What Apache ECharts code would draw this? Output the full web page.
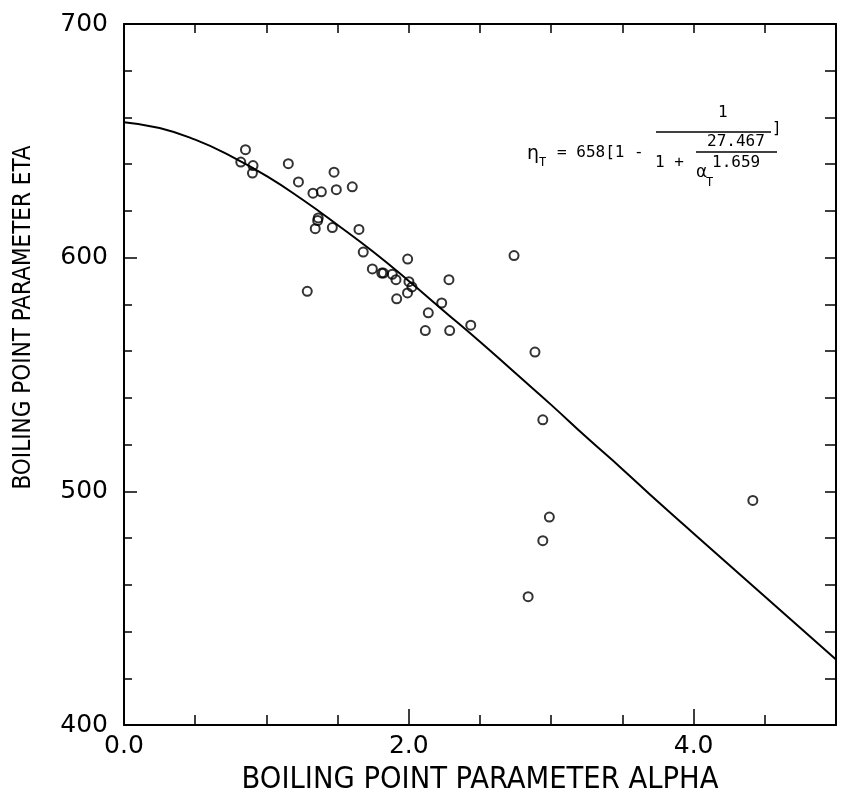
<!DOCTYPE html>
<html>
<head>
<meta charset="utf-8">
<script src="https://cdn.jsdelivr.net/npm/echarts@6/dist/echarts.min.js"></script>
<style>
html,body{margin:0;padding:0;background:#fff;}
#chart{width:842px;height:803px;}
</style>
</head>
<body>
<div id="chart"></div>
<script>
// Observed points (alpha, eta)
const alphaObs = [0.820,0.853,0.906,0.902,1.154,1.225,1.327,1.386,1.475,1.491,1.603,1.364,1.360,1.343,1.463,1.650,1.680,1.287,1.992,1.744,1.810,1.822,1.884,1.910,2.001,2.022,1.991,1.915,2.282,2.231,2.137,2.116,2.287,2.435,2.739,2.886,2.941,2.987,2.941,2.838,4.416];
const etaObs   = [640.9,646.2,639.4,636.2,640.2,632.4,627.6,628.2,636.6,629.1,630.3,617.0,615.9,612.4,612.9,612.1,602.4,585.6,599.4,595.2,593.4,593.4,592.9,590.6,589.7,587.5,584.9,582.4,590.6,580.6,576.4,568.8,568.8,571.1,600.9,559.6,530.6,489.0,478.9,454.9,496.1];
// Fitted curve
const curveAlpha = [0,0.25,0.5,0.75,1,1.25,1.5,1.75,2,2.25,2.5,2.75,3,3.25,3.5,3.75,4,4.25,4.5,4.75,5];
const curveEta   = [658,655.5,650.5,643.5,635,625,614,602.5,590,577,564,550.5,537,523,509.5,495.5,482,468.5,455,441.5,428];
// Axis labels
const xTickLabels = ['0.0','2.0','4.0'];
const yTickLabels = ['400','500','600','700'];
const xTitle = 'BOILING POINT PARAMETER ALPHA';
const yTitle = 'BOILING POINT PARAMETER ETA';

const chart = echarts.init(document.getElementById('chart'));
const black = '#000';
const tickFont = 'DejaVu Sans';
const titleFont = 'DejaVu Sans Condensed';
const mono = '16px "DejaVu Sans Mono"';
const monoSmall = '12px "DejaVu Sans Mono"';

function hiddenLabels(){ return {show:false}; }

const option = {
  animation:false,
  backgroundColor:'#fff',
  grid:{left:124,right:6,top:24,bottom:78,containLabel:false},
  xAxis:[
    {type:'value',min:0,max:5,interval:2,position:'bottom',
     axisLine:{show:true,onZero:false,lineStyle:{color:black,width:2}},
     axisTick:{show:true,inside:true,length:16,lineStyle:{color:black,width:1.5}},
     axisLabel:{show:true,color:black,fontFamily:tickFont,fontSize:25,margin:9,showMaxLabel:false,
       formatter:function(v){const i=Math.round(v/2);return (Math.abs(v-i*2)<1e-9 && i<xTickLabels.length)?xTickLabels[i]:'';}},
     splitLine:{show:false},
     name:xTitle,nameLocation:'middle',nameGap:40,
     nameTextStyle:{color:black,fontFamily:titleFont,fontSize:30.5}},
    {type:'value',min:0,max:5,interval:0.5,position:'bottom',
     axisLine:{show:false,onZero:false},
     axisTick:{show:true,inside:true,length:10,lineStyle:{color:black,width:1.5}},
     axisLabel:hiddenLabels(),splitLine:{show:false}},
    {type:'value',min:0,max:5,interval:0.5,position:'top',
     axisLine:{show:true,onZero:false,lineStyle:{color:black,width:2}},
     axisTick:{show:true,inside:true,length:9,lineStyle:{color:black,width:1.5}},
     axisLabel:hiddenLabels(),splitLine:{show:false}}
  ],
  yAxis:[
    {type:'value',min:400,max:700,interval:100,position:'left',
     axisLine:{show:true,onZero:false,lineStyle:{color:black,width:2}},
     axisTick:{show:true,inside:true,length:13,lineStyle:{color:black,width:1.5}},
     minorTick:{show:true,splitNumber:5,length:8,lineStyle:{color:black,width:1.5}},
     axisLabel:{show:true,color:black,fontFamily:tickFont,fontSize:25,margin:16,
       formatter:function(v){const i=Math.round((v-400)/100);return yTickLabels[i]||'';}},
     splitLine:{show:false},
     name:yTitle,nameLocation:'middle',nameRotate:90,nameGap:88,
     nameTextStyle:{color:black,fontFamily:titleFont,fontSize:24,padding:[0,0,0,114]}},
    {type:'value',min:400,max:700,interval:20,position:'right',
     axisLine:{show:true,onZero:false,lineStyle:{color:black,width:2}},
     axisTick:{show:true,inside:true,length:11,lineStyle:{color:black,width:1.5}},
     axisLabel:hiddenLabels(),splitLine:{show:false}}
  ],
  series:[
    {type:'line',xAxisIndex:0,yAxisIndex:0,showSymbol:false,symbol:'none',smooth:true,
     lineStyle:{color:black,width:2},
     data:curveAlpha.map((a,i)=>[a,curveEta[i]]),z:2},
    {type:'scatter',xAxisIndex:0,yAxisIndex:0,symbol:'circle',symbolSize:9,
     itemStyle:{color:'rgba(0,0,0,0)',borderColor:black,borderWidth:2},
     data:alphaObs.map((a,i)=>[a,etaObs[i]]),z:3}
  ],
  graphic:[
    {type:'text',left:527,top:145,style:{text:'η',font:'19px "DejaVu Sans"',fill:black}},
    {type:'text',left:539,top:157,style:{text:'T',font:monoSmall,fill:black}},
    {type:'text',left:557,top:145,style:{text:'= 658[1 -',font:mono,fill:black}},
    {type:'text',left:718,top:105,style:{text:'1',font:mono,fill:black}},
    {type:'line',shape:{x1:656,y1:132,x2:771,y2:132},style:{stroke:black,lineWidth:1.5}},
    {type:'text',left:772,top:121,style:{text:']',font:mono,fill:black}},
    {type:'text',left:655,top:155,style:{text:'1 +',font:mono,fill:black}},
    {type:'text',left:707,top:134,style:{text:'27.467',font:mono,fill:black}},
    {type:'line',shape:{x1:696,y1:152,x2:777,y2:152},style:{stroke:black,lineWidth:1.5}},
    {type:'text',left:712,top:155,style:{text:'1.659',font:mono,fill:black}},
    {type:'text',left:696,top:164,style:{text:'α',font:'17px "DejaVu Sans"',fill:black}},
    {type:'text',left:706,top:177,style:{text:'T',font:monoSmall,fill:black}}
  ]
};
chart.setOption(option);
</script>
</body>
</html>
